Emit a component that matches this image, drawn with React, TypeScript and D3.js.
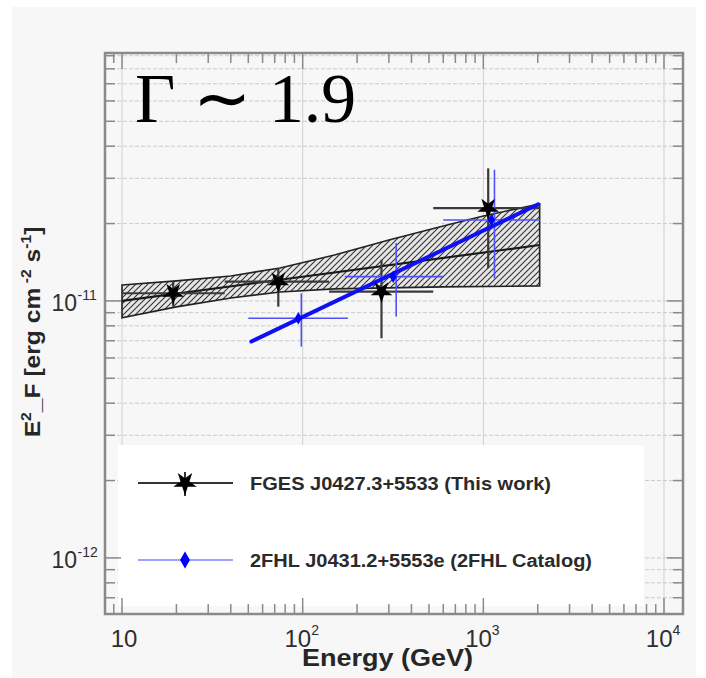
import React from 'react';
import * as d3 from 'd3';

const W = 706;
const H = 678;

// axis domains
const xDomain = [8.05, 12740];
const yDomain = [6.05e-13, 9.22e-11];

// tick labels
const xMajor = [10, 100, 1000, 10000];
const xMajorBase = ['10', '10', '10', '10'];
const xMajorExp = ['', '2', '3', '4'];
const yMajor = [1e-12, 1e-11];
const yMajorExp = ['-12', '-11'];

// FGES J0427.3+5533 (This work)
const fgesE = [19.2, 73.3, 273, 1064];
const fgesFlux = [1.071e-11, 1.189e-11, 1.087e-11, 2.295e-11];
const fgesELow = [10, 37, 140, 528];
const fgesEHigh = [37, 140, 528, 2050];
const fgesFluxLow = [9.5e-12, 9.5e-12, 7.16e-12, 1.34e-11];
const fgesFluxHigh = [1.19e-11, 1.34e-11, 1.445e-11, 3.28e-11];

// FGES power-law fit and butterfly
const fgesFitE = [10, 2050];
const fgesFitFlux = [1.0e-11, 1.65e-11];
const bandUpperE = [10, 20, 40, 75, 150, 300, 600, 1000, 2050];
const bandUpperFlux = [1.154e-11, 1.197e-11, 1.251e-11, 1.344e-11, 1.51e-11, 1.727e-11, 1.958e-11, 2.142e-11, 2.385e-11];
const bandLowerE = [10, 20, 40, 75, 150, 300, 600, 2050];
const bandLowerFlux = [8.59e-12, 9.48e-12, 1.027e-11, 1.084e-11, 1.114e-11, 1.124e-11, 1.134e-11, 1.144e-11];

// 2FHL J0431.2+5553e (2FHL Catalog)
const fhlE = [94.6, 317, 1109];
const fhlFlux = [8.56e-12, 1.243e-11, 2.066e-11];
const fhlELow = [50, 171, 600];
const fhlEHigh = [178, 600, 2050];
const fhlFluxLow = [6.64e-12, 8.69e-12, 1.225e-11];
const fhlFluxHigh = [1.07e-11, 1.68e-11, 3.24e-11];
const fhlFitE = [52, 2013];
const fhlFitFlux = [6.95e-12, 2.377e-11];

const legendLabels = ['FGES J0427.3+5533 (This work)', '2FHL J0431.2+5553e (2FHL Catalog)'];

const PL = 105, PR = 683, PT = 53, PB = 614;

export default function App() {
  const x = d3.scaleLog().domain(xDomain).range([PL, PR]);
  const y = d3.scaleLog().domain(yDomain).range([PB, PT]);

  const xTicks = x.ticks();
  const yTicks = y.ticks();
  const isMajor = (v: number) => Math.abs(Math.log10(v) - Math.round(Math.log10(v))) < 1e-6;

  const line = d3.line<[number, number]>().x(d => x(d[0])).y(d => y(d[1]));
  const fgesFit = line(fgesFitE.map((e, i) => [e, fgesFitFlux[i]] as [number, number]));
  const fhlFit = line(fhlFitE.map((e, i) => [e, fhlFitFlux[i]] as [number, number]));

  const upper = bandUpperE.map((e, i) => [e, bandUpperFlux[i]] as [number, number]);
  const lower = bandLowerE.map((e, i) => [e, bandLowerFlux[i]] as [number, number]).reverse();
  const bandPath = line([...upper, ...lower]) + 'Z';

  const star = d3.symbol(d3.symbolStar, 150)();
  const starLegend = d3.symbol(d3.symbolStar, 170)();
  const diamond = d3.symbol(d3.symbolDiamond, 45)();
  const diamondLegend = d3.symbol(d3.symbolDiamond, 85)();

  const frame = '#8a8a8a';

  return (
    <svg width={W} height={H} style={{ position: 'absolute', left: 0, top: 0 }} fontFamily="'Liberation Sans', Arial, sans-serif">
      <defs>
        <pattern id="hatch" patternUnits="userSpaceOnUse" width="6" height="6">
          <rect width="6" height="6" fill="#e6e6e6" />
          <path d="M-1,1 l2,-2 M0,6 l6,-6 M5,7 l2,-2" stroke="#333" strokeWidth="1.1" />
        </pattern>
        <clipPath id="plotclip">
          <rect x={PL} y={PT} width={PR - PL} height={PB - PT} />
        </clipPath>
      </defs>
      <rect width={W} height={H} fill="#ffffff" />
      <rect x={12} y={7} width={684} height={670} fill="#f7f7f7" />

      {/* grid */}
      <g clipPath="url(#plotclip)">
        {xTicks.filter(isMajor).map((t, i) => (
          <line key={'gx' + i} x1={x(t)} x2={x(t)} y1={PT} y2={PB} stroke="#cfcfcf" strokeWidth={1} />
        ))}
        {yTicks.map((t, i) => (
          <line key={'gy' + i} x1={PL} x2={PR} y1={y(t)} y2={y(t)} stroke="#cacaca" strokeWidth={1} strokeDasharray="4,2" />
        ))}
      </g>

      {/* legend box */}
      <rect x={118} y={445} width={526} height={161} fill="#ffffff" />

      {/* ticks */}
      <g stroke={frame} strokeWidth={1.5}>
        {xTicks.map((t, i) => {
          const L = isMajor(t) ? 16 : 10;
          return (
            <g key={'tx' + i}>
              <line x1={x(t)} x2={x(t)} y1={PB} y2={PB - L} />
              <line x1={x(t)} x2={x(t)} y1={PT} y2={PT + L} />
            </g>
          );
        })}
        {yTicks.map((t, i) => {
          const L = isMajor(t) ? 16 : 10;
          return (
            <g key={'ty' + i}>
              <line x1={PL} x2={PL + L} y1={y(t)} y2={y(t)} />
              <line x1={PR} x2={PR - L} y1={y(t)} y2={y(t)} />
            </g>
          );
        })}
      </g>

      {/* butterfly band */}
      <g clipPath="url(#plotclip)">
        <path d={bandPath} fill="url(#hatch)" stroke="#222" strokeWidth={1.6} />
        <path d={fgesFit || ''} fill="none" stroke="#1a1a1a" strokeWidth={2.2} />

        {/* FGES error bars */}
        {fgesE.map((e, i) => (
          <g key={'fe' + i} stroke="#3a3a3a" strokeWidth={2.2}>
            <line x1={x(fgesELow[i])} x2={x(fgesEHigh[i])} y1={y(fgesFlux[i])} y2={y(fgesFlux[i])} />
            <line x1={x(e)} x2={x(e)} y1={y(fgesFluxLow[i])} y2={y(fgesFluxHigh[i])} />
          </g>
        ))}

        {/* 2FHL error bars */}
        {fhlE.map((e, i) => (
          <g key={'he' + i} stroke="#5050ff" strokeWidth={1.6}>
            <line x1={x(fhlELow[i])} x2={x(fhlEHigh[i])} y1={y(fhlFlux[i])} y2={y(fhlFlux[i])} />
            <line x1={x(e) + 3} x2={x(e) + 3} y1={y(fhlFluxLow[i])} y2={y(fhlFluxHigh[i])} />
          </g>
        ))}

        <path d={fhlFit || ''} fill="none" stroke="#1010f5" strokeWidth={4} strokeLinecap="round" />

        {fgesE.map((e, i) => (
          <path key={'fs' + i} d={star || ''} transform={`translate(${x(e)},${y(fgesFlux[i])}) rotate(180)`} fill="#000" />
        ))}
        {fhlE.map((e, i) => (
          <path key={'hs' + i} d={diamond || ''} transform={`translate(${x(e)},${y(fhlFlux[i])})`} fill="#0000ff" />
        ))}
      </g>

      {/* frame */}
      <rect x={PL} y={PT} width={PR - PL} height={PB - PT} fill="none" stroke={frame} strokeWidth={2.5} />

      {/* legend entries */}
      <line x1={138} x2={233} y1={483} y2={483} stroke="#333" strokeWidth={2} />
      <line x1={185} x2={185} y1={472} y2={496} stroke="#333" strokeWidth={2} />
      <path d={starLegend || ''} transform="translate(185,483) rotate(180)" fill="#000" />
      <text x={250} y={490} fontSize={18} fontWeight="bold" fill="#2a2a2a" textLength={301} lengthAdjust="spacingAndGlyphs">{legendLabels[0]}</text>

      <line x1={138} x2={233} y1={560} y2={560} stroke="#8080ff" strokeWidth={1.5} />
      <path d={diamondLegend || ''} transform="translate(185,560)" fill="#0000ff" />
      <text x={250} y={567} fontSize={18} fontWeight="bold" fill="#2a2a2a" textLength={342} lengthAdjust="spacingAndGlyphs">{legendLabels[1]}</text>

      {/* x tick labels */}
      {xMajor.map((t, i) => (
        xMajorExp[i] === '' ? (
          <text key={'xl' + i} x={x(t) + 2} y={647} fontSize={24} fill="#2e2e2e" textAnchor="middle">{xMajorBase[i]}</text>
        ) : (
          <g key={'xl' + i}>
            <text x={x(t) + 8.5} y={647} fontSize={24} fill="#2e2e2e" textAnchor="end">{xMajorBase[i]}</text>
            <text x={x(t) + 8.5} y={635} fontSize={14} fill="#2e2e2e">{xMajorExp[i]}</text>
          </g>
        )
      ))}

      {/* y tick labels */}
      {yMajor.map((t, i) => (
        <g key={'yl' + i}>
          <text x={77} y={y(t) + 10.5} fontSize={23} fill="#2e2e2e" textAnchor="end">10</text>
          <text x={77.5} y={y(t) - 1} fontSize={14} fill="#2e2e2e">{yMajorExp[i]}</text>
        </g>
      ))}

      {/* axis titles */}
      <text x={302} y={666} fontSize={23} fontWeight="bold" fill="#262626" textLength={171} lengthAdjust="spacingAndGlyphs">Energy (GeV)</text>
      <text transform="translate(40,332) rotate(-90) scale(1.12,1)" fontSize={22} fontWeight="bold" fill="#262626" textAnchor="middle">
        E<tspan dy={-9} fontSize={14}>2</tspan><tspan dy={9}>_F [erg cm</tspan><tspan dy={-9} fontSize={14}> -2</tspan><tspan dy={9}> s</tspan><tspan dy={-9} fontSize={14}>-1</tspan><tspan dy={9}>]</tspan>
      </text>

      {/* annotation */}
      <text x={135} y={122} fontSize={70} fontFamily="'Liberation Serif', 'Times New Roman', serif" fill="#000" textLength={221} lengthAdjust="spacingAndGlyphs">Γ ∼ 1.9</text>
    </svg>
  );
}
